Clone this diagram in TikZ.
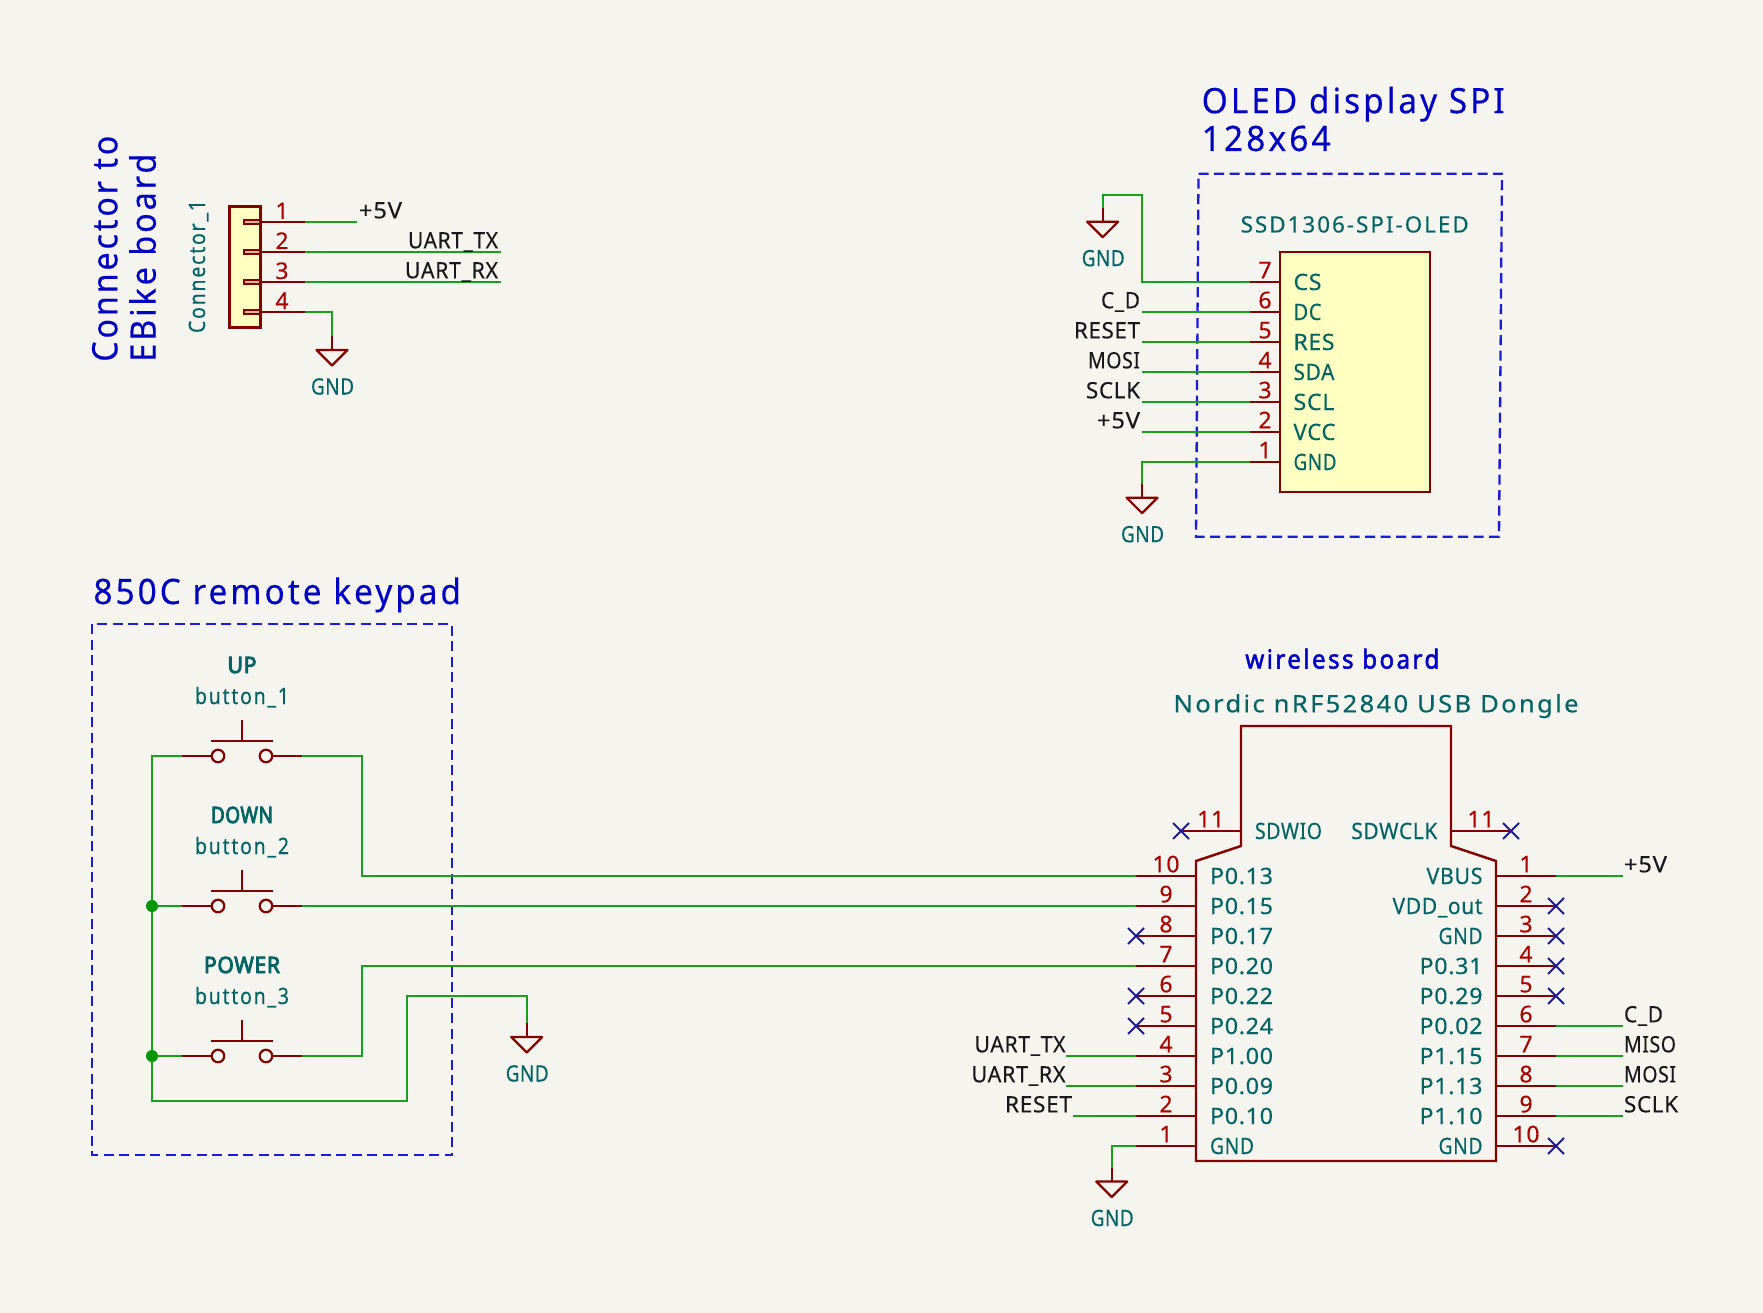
\documentclass[tikz,border=0pt]{standalone}
\usepackage{fontspec}
\usepackage{graphicx}
\setmainfont[LetterSpace=3,FakeBold=0.25]{Noto Sans}
\newfontfamily\lsfont[LetterSpace=9,FakeBold=0.25]{Noto Sans}
\newfontfamily\wbfont[FakeBold=2,LetterSpace=10]{Noto Sans}
\newfontfamily\bdfont[FakeBold=4,LetterSpace=3]{Noto Sans}
\definecolor{bgc}{HTML}{F5F4EF}
\definecolor{bodyc}{HTML}{840000}
\definecolor{numc}{HTML}{A90000}
\definecolor{fillc}{HTML}{FFFFC2}
\definecolor{tealc}{HTML}{006464}
\definecolor{wirec}{HTML}{18A018}
\definecolor{bluec}{HTML}{0000C2}
\definecolor{dashc}{HTML}{1C1CD8}
\definecolor{ncc}{HTML}{1C1C96}
\definecolor{junc}{HTML}{009600}
\definecolor{stubc}{HTML}{D8B8A0}
\newsavebox\fitbox
\newlength\fitlen
\newcommand\fitw[2]{\sbox\fitbox{#2}\setlength\fitlen{\wd\fitbox}\pgfmathsetmacro\fitr{#1/\fitlen}\scalebox{\fitr}[1]{\usebox\fitbox}}
\tikzset{
  x=1pt,y=-1pt,
  txt/.style={inner sep=0pt,outer sep=0pt,font=\fontsize{22.5}{24}\selectfont},
  pinlab/.style={txt,text=tealc},
  netlab/.style={txt,text=black!90},
  pinnum/.style={txt,text=numc,font=\fontsize{23}{25}\selectfont,anchor=base},
  note/.style={inner sep=0pt,outer sep=0pt,text=bluec,font=\fontsize{35}{38}\selectfont},
  wire/.style={draw=wirec,line width=2.3pt},
  pinl/.style={draw=bodyc,line width=2.2pt},
  body/.style={draw=bodyc,line width=2.4pt,line join=miter},
  dashbox/.style={draw=dashc,line width=2.3pt,dash pattern=on 10pt off 5.5pt},
  ncmark/.style={draw=ncc,line width=2pt},
  junction/.style={circle,fill=junc,inner sep=0pt,minimum size=12pt},
  swcirc/.style={circle,draw=bodyc,line width=2.2pt,inner sep=0pt,minimum size=12.5pt},
}
% ground symbol: #1 name, #2 x, #3 y of the triangle top
\newcommand\gndsym[3]{%
  \coordinate (#1) at (#2,#3-14);
  \coordinate (#1top) at (#2,#3);
  \draw[pinl] (#1) -- (#1top);
  \draw[body,line width=2.2pt,line join=round] (#2-15.5,#3) -- (#2+15.5,#3) -- (#2,#3+15.5) -- cycle;
  \node[pinlab,anchor=base] (#1txt) at (#2+0.5,#3+44.5) {\fitw{43}{GND}};
}
\newcommand\ncsym[3]{%
  \coordinate (#1) at (#2,#3);
  \draw[ncmark] (#2-8,#3-8) -- (#2+8,#3+8) (#2-8,#3+8) -- (#2+8,#3-8);
}
\begin{document}
\begin{tikzpicture}
\useasboundingbox (0,0) rectangle (1763,1313);
\fill[bgc] (0,0) rectangle (1763,1313);

% ---------- Connector ----------
\node[note,rotate=90,anchor=base west] (ntA) at (117.3,361.7) {\fitw{226}{\lsfont Connector to}};
\node[note,rotate=90,anchor=base west] (ntB) at (155.7,361.7) {\fitw{208}{\lsfont EBike board}};
\node[pinlab,rotate=90,anchor=base west] (jref) at (205,333) {\fitw{133}{\lsfont Connector\_1}};
\path[fill=fillc,draw=bodyc,line width=3pt] (229.5,207) rectangle (260,327.3);
\foreach \n/\y in {1/222,2/252,3/282,4/312}{
  \path[fill=stubc,draw=bodyc,line width=1.4pt] (244,\y-2) rectangle (260,\y+2);
  \coordinate (ja\n) at (260,\y);
  \coordinate (jb\n) at (305,\y);
  \draw[pinl] (ja\n) -- (jb\n);
  \node[pinnum] (jn\n) at (282,\y-3) {\n};
}
\coordinate (w1e) at (356.7,222);
\coordinate (w2e) at (500.7,252);
\coordinate (w3e) at (500.7,282);
\draw[wire] (jb1) -- (w1e);
\draw[wire] (jb2) -- (w2e);
\draw[wire] (jb3) -- (w3e);
\node[netlab,anchor=base west] (l5v) at (359,218.3) {\fitw{43}{+5V}};
\node[netlab,anchor=base east] (ltx) at (498,248.3) {\fitw{90}{UART\_TX}};
\node[netlab,anchor=base east] (lrx) at (498,278.3) {\fitw{93}{UART\_RX}};
\gndsym{gA}{332}{350}
\draw[wire] (jb4) -| (gA);

% ---------- OLED ----------
\node[note,anchor=base west] (ntO) at (1201.7,113.2) {\fitw{303}{\lsfont OLED display SPI}};
\node[note,anchor=base west] (ntP) at (1201.7,151) {\fitw{129}{\lsfont 128x64}};
\draw[dashbox] (1198.5,173.7) -- (1502,173.7) -- (1499,536.7) -- (1196,536.7) -- cycle;
\node[pinlab,anchor=base west] (oname) at (1240.7,232.5) {\fitw{228}{\lsfont SSD1306-SPI-OLED}};
\path[fill=fillc,draw=bodyc,line width=2.4pt] (1280,252) rectangle (1430,492);
\foreach \n/\lab/\w/\y in {7/CS/28/282,6/DC/28/312,5/RES/41/342,4/SDA/41/372,3/SCL/41/402,2/VCC/42/432,1/GND/43/462}{
  \coordinate (oa\n) at (1280,\y);
  \coordinate (ob\n) at (1250,\y);
  \draw[pinl] (oa\n) -- (ob\n);
  \node[pinnum] (on\n) at (1265,\y-3.7) {\n};
  \node[pinlab,anchor=base west] (ol\n) at (1293.5,\y+8) {\fitw{\w}{\lab}};
}
\foreach \n/\lab/\w/\y in {6/C\_D/39/312,5/RESET/66/342,4/MOSI/52/372,3/SCLK/54/402,2/+5V/43/432}{
  \coordinate (oc\n) at (1142,\y);
  \draw[wire] (ob\n) -- (oc\n);
  \node[netlab,anchor=base east] (om\n) at (1140,\y-3.7) {\fitw{\w}{\lab}};
}
\gndsym{gB}{1102.7}{221.7}
\coordinate (oup1) at (1142,195);
\coordinate (oup2) at (1102.7,195);
\draw[wire] (ob7) -- (1142,282) -- (oup1) -- (oup2) -- (gB);
\gndsym{gC}{1142}{497.7}
\draw[wire] (ob1) -| (gC);

% ---------- Keypad ----------
\node[note,anchor=base west] (ntK) at (93.5,604) {\fitw{367.5}{\lsfont 850C remote keypad}};
\draw[dashbox] (92,624) rectangle (452,1155);
\foreach \b/\t/\tw/\y in {1/UP/29/756,2/DOWN/62/906,3/POWER/76/1056}{
  \node[swcirc] (sw\b a) at (218,\y) {};
  \node[swcirc] (sw\b b) at (266,\y) {};
  \coordinate (sw\b l) at (182,\y);
  \coordinate (sw\b r) at (302,\y);
  \draw[pinl] (sw\b l) -- (sw\b a);
  \draw[pinl] (sw\b b) -- (sw\b r);
  \coordinate (sw\b t) at (242,\y-15);
  \coordinate (sw\b p) at (242,\y-36);
  \draw[pinl] (211,\y-15) -- (273,\y-15);
  \draw[pinl] (sw\b t) -- (sw\b p);
  \node[txt,text=tealc,anchor=base] (sw\b v) at (242,\y-83) {\fitw{\tw}{\bdfont \t}};
  \node[pinlab,anchor=base] (sw\b n) at (242,\y-52) {\fitw{94}{\lsfont button\_\b}};
}
\coordinate (kbus) at (152,756);
\coordinate (kb1) at (152,1101);
\coordinate (kb2) at (407,1101);
\coordinate (kb3) at (407,996);
\gndsym{gD}{526.7}{1037}
\draw[wire] (sw1l) -- (kbus) -- (kb1) -- (kb2) -- (kb3) -| (gD);
\draw[wire] (sw2l) -- (152,906);
\draw[wire] (sw3l) -- (152,1056);
\node[junction] (j1) at (152,906) {};
\node[junction] (j2) at (152,1056) {};

% ---------- MCU ----------
\node[txt,text=bluec,anchor=base west,font=\fontsize{26}{28}\selectfont] (ntW) at (1245.3,668.5) {\fitw{194}{\wbfont wireless board}};
\node[txt,text=tealc,anchor=base west,font=\fontsize{24}{26}\selectfont] (uname) at (1173.5,712.3) {\fitw{405}{\lsfont Nordic nRF52840 USB Dongle}};
\draw[body] (1196,861) -- (1241,846) -- (1241,726) -- (1451,726) -- (1451,846) -- (1496,861) -- (1496,1161) -- (1196,1161) -- cycle;
\foreach \n/\lab/\y in {10/P0.13/876,9/P0.15/906,8/P0.17/936,7/P0.20/966,6/P0.22/996,5/P0.24/1026,4/P1.00/1056,3/P0.09/1086,2/P0.10/1116}{
  \coordinate (ua\n) at (1196,\y);
  \coordinate (ub\n) at (1136,\y);
  \draw[pinl] (ua\n) -- (ub\n);
  \node[pinnum] (un\n) at (1166,\y-3.7) {\n};
  \node[pinlab,anchor=base west] (ul\n) at (1210,\y+8) {\fitw{63}{\lab}};
}
\coordinate (ua1) at (1196,1146);
\coordinate (ub1) at (1136,1146);
\draw[pinl] (ua1) -- (ub1);
\node[pinnum] (un1) at (1166,1142.3) {1};
\node[pinlab,anchor=base west] (ul1) at (1210,1154) {\fitw{44}{GND}};
\ncsym{x8}{1136}{936}
\ncsym{x6}{1136}{996}
\ncsym{x5}{1136}{1026}
% SDWIO and SDWCLK
\coordinate (ua11) at (1241,831);
\draw[pinl] (ua11) -- (1181,831);
\ncsym{xa}{1181}{831}
\node[pinnum] (una) at (1210.7,827.3) {11};
\node[pinlab,anchor=base west] (ula) at (1255,839) {\fitw{67}{SDWIO}};
\coordinate (ur11) at (1451,831);
\draw[pinl] (ur11) -- (1511,831);
\ncsym{xb}{1511}{831}
\node[pinnum] (unb) at (1481,827.3) {11};
\node[pinlab,anchor=base east] (ulb) at (1437.3,839) {\fitw{86}{SDWCLK}};
% right pins
\foreach \n/\lab/\w/\y in {1/VBUS/56/876,2/VDD\_out/90/906,3/GND/44/936,4/P0.31/63/966,5/P0.29/63/996,6/P0.02/63/1026,7/P1.15/63/1056,8/P1.13/63/1086,9/P1.10/63/1116,10/GND/44/1146}{
  \coordinate (ra\n) at (1496,\y);
  \coordinate (rb\n) at (1556,\y);
  \draw[pinl] (ra\n) -- (rb\n);
  \node[pinnum] (rn\n) at (1526,\y-3.7) {\n};
  \node[pinlab,anchor=base east] (rl\n) at (1482.5,\y+8) {\fitw{\w}{\lab}};
}
\ncsym{xr2}{1556}{906}
\ncsym{xr3}{1556}{936}
\ncsym{xr4}{1556}{966}
\ncsym{xr5}{1556}{996}
\ncsym{xr10}{1556}{1146}
\foreach \n/\lab/\w/\y in {1/+5V/43/876,6/C\_D/39/1026,7/MISO/52/1056,8/MOSI/52/1086,9/SCLK/54/1116}{
  \coordinate (re\n) at (1622.7,\y);
  \draw[wire] (rb\n) -- (re\n);
  \node[netlab,anchor=base west] (rm\n) at (1624,\y-3.7) {\fitw{\w}{\lab}};
}
% left nets
\coordinate (ue4) at (1066,1056);
\coordinate (ue3) at (1066,1086);
\coordinate (ue2) at (1072.7,1116);
\draw[wire] (ub4) -- (ue4);
\draw[wire] (ub3) -- (ue3);
\draw[wire] (ub2) -- (ue2);
\node[netlab,anchor=base east] (um4) at (1065.5,1052.3) {\fitw{91}{UART\_TX}};
\node[netlab,anchor=base east] (um3) at (1065.5,1082.3) {\fitw{94}{UART\_RX}};
\node[netlab,anchor=base east] (um2) at (1072,1112.3) {\fitw{67}{RESET}};
\gndsym{gE}{1111.7}{1181.5}
\draw[wire] (ub1) -| (gE);
% long nets
\draw[wire] (sw1r) -- (362,756) -- (362,876) -- (ub10);
\draw[wire] (sw2r) -- (ub9);
\draw[wire] (sw3r) -- (362,1056) -- (362,966) -- (ub7);
\end{tikzpicture}
\end{document}
